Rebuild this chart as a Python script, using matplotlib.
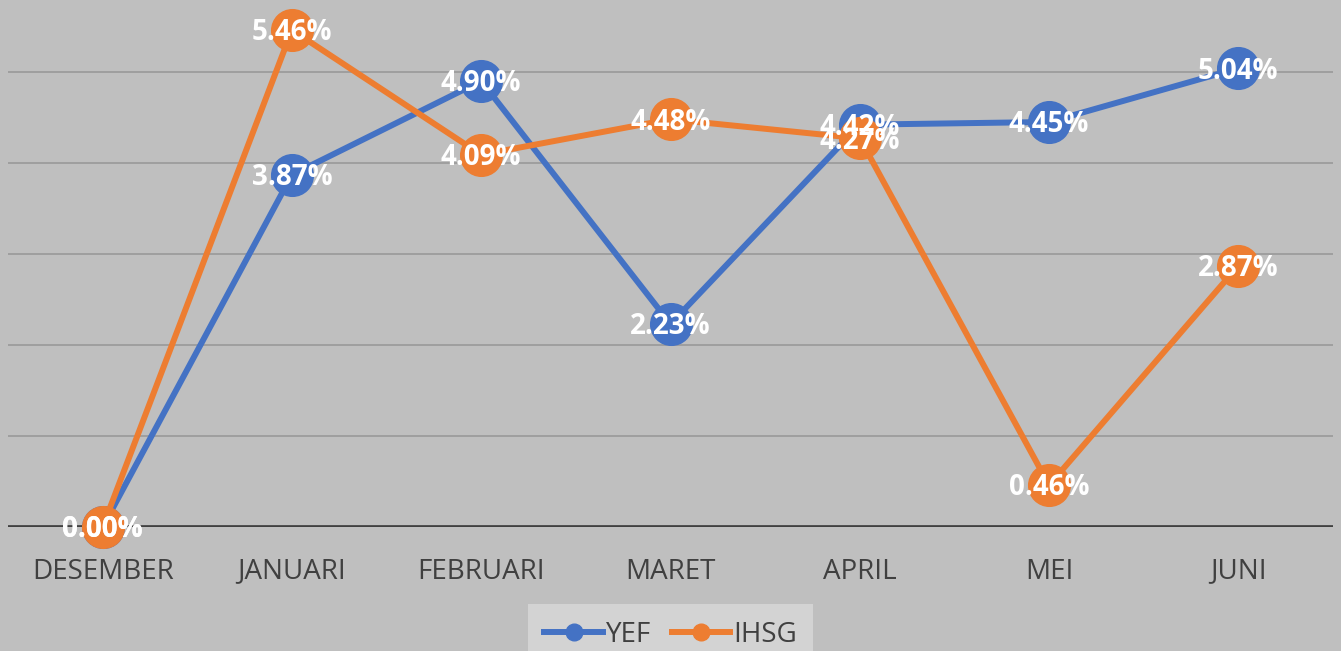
import matplotlib.pyplot as plt

months = ["DESEMBER", "JANUARI", "FEBRUARI", "MARET", "APRIL", "MEI", "JUNI"]
yef = [0.00, 3.87, 4.90, 2.23, 4.42, 4.45, 5.04]
ihsg = [0.00, 5.46, 4.09, 4.48, 4.27, 0.46, 2.87]
grid_levels = [1, 2, 3, 4, 5]

BG = "#bfbfbf"
BLUE = "#4472c4"
ORANGE = "#ed7d31"
TEXT = "#404040"

plt.rcParams["font.family"] = ["Open Sans", "DejaVu Sans"]

fig = plt.figure(figsize=(13.41, 6.51), dpi=100, facecolor=BG)
ax = fig.add_axes([8 / 1341, 124 / 651, 1325 / 1341, 527 / 651], facecolor=BG)

x = list(range(len(months)))
for yv in grid_levels:
    ax.axhline(yv, color="#999999", lw=1.2, zorder=1)
ax.axhline(0, color="#404040", lw=3.4, zorder=2)

ax.plot(x, yef, color=BLUE, lw=4.3, marker="o", ms=30, label="YEF",
        zorder=3, clip_on=False)
ax.plot(x, ihsg, color=ORANGE, lw=4.3, marker="o", ms=30, label="IHSG",
        zorder=4, clip_on=False)

# data labels sit on the markers, as in the original
for series in (yef, ihsg):
    for xi, v in zip(x, series):
        ax.annotate(f"{v:.2f}%", (xi, v), xytext=(0, -2), textcoords="offset points",
                    ha="center", va="center", color="white",
                    fontsize=20, fontweight="bold", zorder=6, annotation_clip=False)

ax.set_xlim(-0.5, len(months) - 0.5)
ax.set_ylim(0, 5.79)
ax.set_xticks(x)
ax.set_xticklabels(months, fontsize=20, color=TEXT)
ax.tick_params(axis="x", length=0, pad=22)
ax.set_yticks([])
for s in ax.spines.values():
    s.set_visible(False)

leg = fig.legend(loc="upper center", bbox_to_anchor=(0.5, 47 / 651), ncol=2,
                 fontsize=20, frameon=True, facecolor="#d3d3d3", edgecolor="none",
                 fancybox=False, handlelength=2.1, handletextpad=0.1,
                 columnspacing=0.75, borderpad=0.6, borderaxespad=0,
                 markerscale=0.4)
for t in leg.get_texts():
    t.set_color(TEXT)
leg.get_frame().set_alpha(1)

fig.savefig("out.png", dpi=100, facecolor=BG)
